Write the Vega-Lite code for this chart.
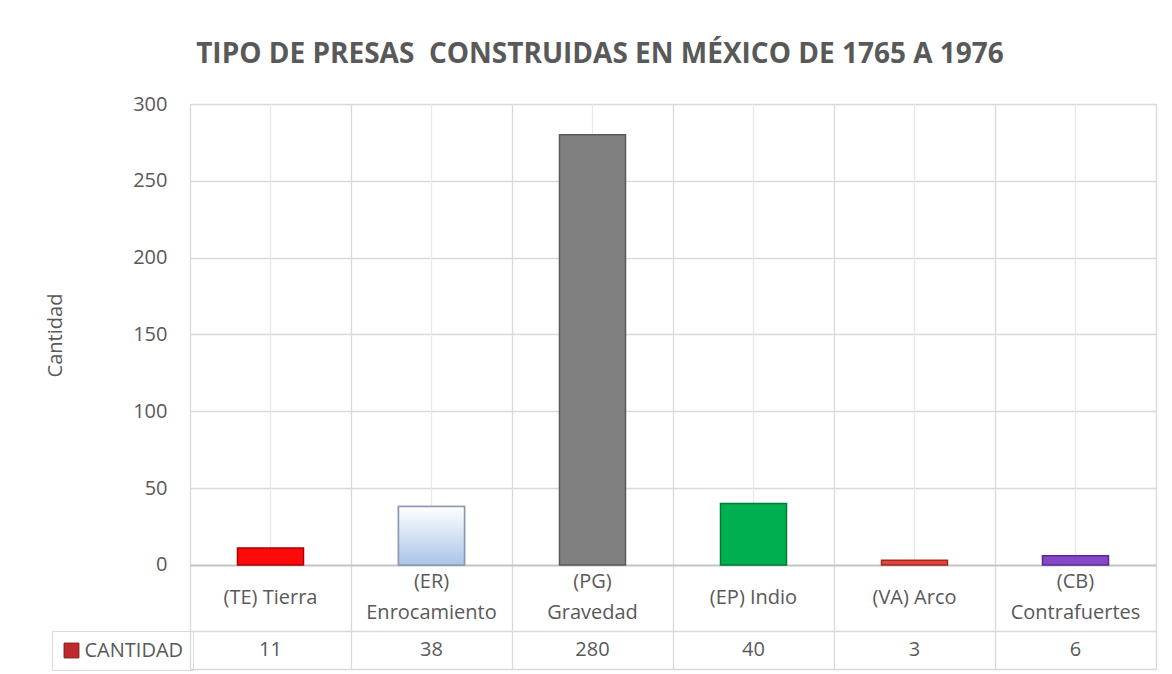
{
  "$schema": "https://vega.github.io/schema/vega-lite/v6.json",
  "width": 966,
  "height": 565,
  "autosize": {"type": "none"},
  "padding": {"left": 190, "top": 104, "right": 16, "bottom": 5},
  "background": "white",
  "config": {
    "legend": {"symbolBaseFillColor": "#c0292b", "symbolBaseStrokeColor": "#7b1a1a"}
  },
  "title": {
    "text": "TIPO DE PRESAS \u00a0CONSTRUIDAS EN MÉXICO DE 1765 A 1976",
    "font": "Open Sans",
    "fontSize": 28,
    "fontWeight": "bold",
    "color": "#595959",
    "anchor": "middle",
    "frame": "group",
    "dx": -73,
    "offset": 25
  },
  "data": {
    "values": [
      {"tipo": "TE", "linea1": "(TE) Tierra", "linea2": null, "cantidad": 11},
      {"tipo": "ER", "linea1": "(ER)", "linea2": "Enrocamiento", "cantidad": 38},
      {"tipo": "PG", "linea1": "(PG)", "linea2": "Gravedad", "cantidad": 280},
      {"tipo": "EP", "linea1": "(EP) Indio", "linea2": null, "cantidad": 40},
      {"tipo": "VA", "linea1": "(VA) Arco", "linea2": null, "cantidad": 3},
      {"tipo": "CB", "linea1": "(CB)", "linea2": "Contrafuertes", "cantidad": 6}
    ]
  },
  "encoding": {
    "x": {
      "field": "tipo",
      "type": "nominal",
      "sort": null,
      "scale": {"paddingInner": 0, "paddingOuter": 0},
      "axis": {
        "grid": true,
        "tickBand": "extent",
        "labels": false,
        "ticks": false,
        "domain": false,
        "title": null,
        "gridColor": "#d9d9d9",
        "gridWidth": 1.3
      }
    }
  },
  "layer": [
    {
      "mark": {"type": "rule", "color": "#e8e8e8", "strokeWidth": 1.3},
      "encoding": {
        "y": {"datum": 300},
        "y2": {"datum": 0}
      }
    },
    {
      "mark": {"type": "bar", "width": {"band": 0.41}, "strokeWidth": 1.5},
      "encoding": {
        "y": {
          "field": "cantidad",
          "type": "quantitative",
          "scale": {"domain": [-67.7, 300], "nice": false, "zero": false},
          "axis": {
            "values": [-67.7, -55.3, -42.9, 0, 50, 100, 150, 200, 250, 300],
            "title": "Cantidad",
            "titleFont": "Open Sans",
            "titleFontSize": 20,
            "titleFontWeight": "normal",
            "titleColor": "#595959",
            "titleX": -135,
            "titleY": 231,
            "titleAngle": -90,
            "titleAlign": "center",
            "titleBaseline": "middle",
            "labelExpr": "datum.value < 0 ? '' : datum.label",
            "labelFont": "Open Sans",
            "labelFontSize": 20,
            "labelColor": "#595959",
            "labelPadding": 23,
            "ticks": false,
            "domain": false,
            "grid": true,
            "gridColor": {"condition": {"test": "datum.value == 0", "value": "#c4c4c4"}, "value": "#d9d9d9"},
            "gridWidth": {"condition": {"test": "datum.value == 0", "value": 2}, "value": 1.3},
            "gridOpacity": {"condition": {"test": "datum.value == -55.3", "value": 0}, "value": 1}
          }
        },
        "color": {
          "field": "tipo",
          "type": "nominal",
          "sort": null,
          "scale": {"domain": ["TE", "ER", "PG", "EP", "VA", "CB"], "range": ["#ff0a0a", "#c9daf1", "#808080", "#00b050", "#e0443a", "#8548c8"]},
          "legend": null
        },
        "stroke": {
          "field": "tipo",
          "type": "nominal",
          "sort": null,
          "scale": {"domain": ["TE", "ER", "PG", "EP", "VA", "CB"], "range": ["#b00000", "#8a9ab0", "#5a5a5a", "#007a38", "#a02a22", "#5a2a90"]},
          "legend": null
        },
        "opacity": {
          "datum": "CANTIDAD",
          "type": "nominal",
          "scale": {"range": [1]},
          "legend": {
            "title": null,
            "orient": "none",
            "legendX": -138,
            "legendY": 527,
            "padding": 9.5,
            "strokeColor": "#d9d9d9",
            "symbolType": "square",
            "symbolSize": 220,
            "symbolFillColor": "#c0292b",
            "symbolStrokeColor": "#7b1a1a",
            "symbolStrokeWidth": 1,
            "symbolOpacity": 1,
            "labelFont": "Open Sans",
            "labelFontSize": 20,
            "labelColor": "#595959",
            "labelOffset": 3
          }
        }
      }
    },
    {
      "transform": [{"filter": "datum.tipo == 'ER'"}],
      "mark": {
        "type": "bar",
        "width": {"band": 0.41},
        "stroke": "#8a9ab0",
        "strokeWidth": 1.5,
        "color": {
          "gradient": "linear",
          "x1": 0, "y1": 0, "x2": 0, "y2": 1,
          "stops": [
            {"offset": 0, "color": "#ffffff"},
            {"offset": 1, "color": "#abc4e8"}
          ]
        }
      },
      "encoding": {
        "y": {"field": "cantidad", "type": "quantitative"}
      }
    },
    {
      "transform": [{"filter": "datum.linea2 == null"}],
      "mark": {"type": "text", "font": "Open Sans", "fontSize": 20, "color": "#595959", "baseline": "middle"},
      "encoding": {
        "y": {"datum": -21.5},
        "text": {"field": "linea1"}
      }
    },
    {
      "transform": [{"filter": "datum.linea2 != null"}],
      "mark": {"type": "text", "font": "Open Sans", "fontSize": 20, "color": "#595959", "baseline": "middle"},
      "encoding": {
        "y": {"datum": -11.1},
        "text": {"field": "linea1"}
      }
    },
    {
      "transform": [{"filter": "datum.linea2 != null"}],
      "mark": {"type": "text", "font": "Open Sans", "fontSize": 20, "color": "#595959", "baseline": "middle"},
      "encoding": {
        "y": {"datum": -31.2},
        "text": {"field": "linea2"}
      }
    },
    {
      "mark": {"type": "text", "font": "Open Sans", "fontSize": 20, "color": "#595959", "baseline": "middle"},
      "encoding": {
        "y": {"datum": -55.3},
        "text": {"field": "cantidad", "type": "quantitative"}
      }
    }
  ]
}
